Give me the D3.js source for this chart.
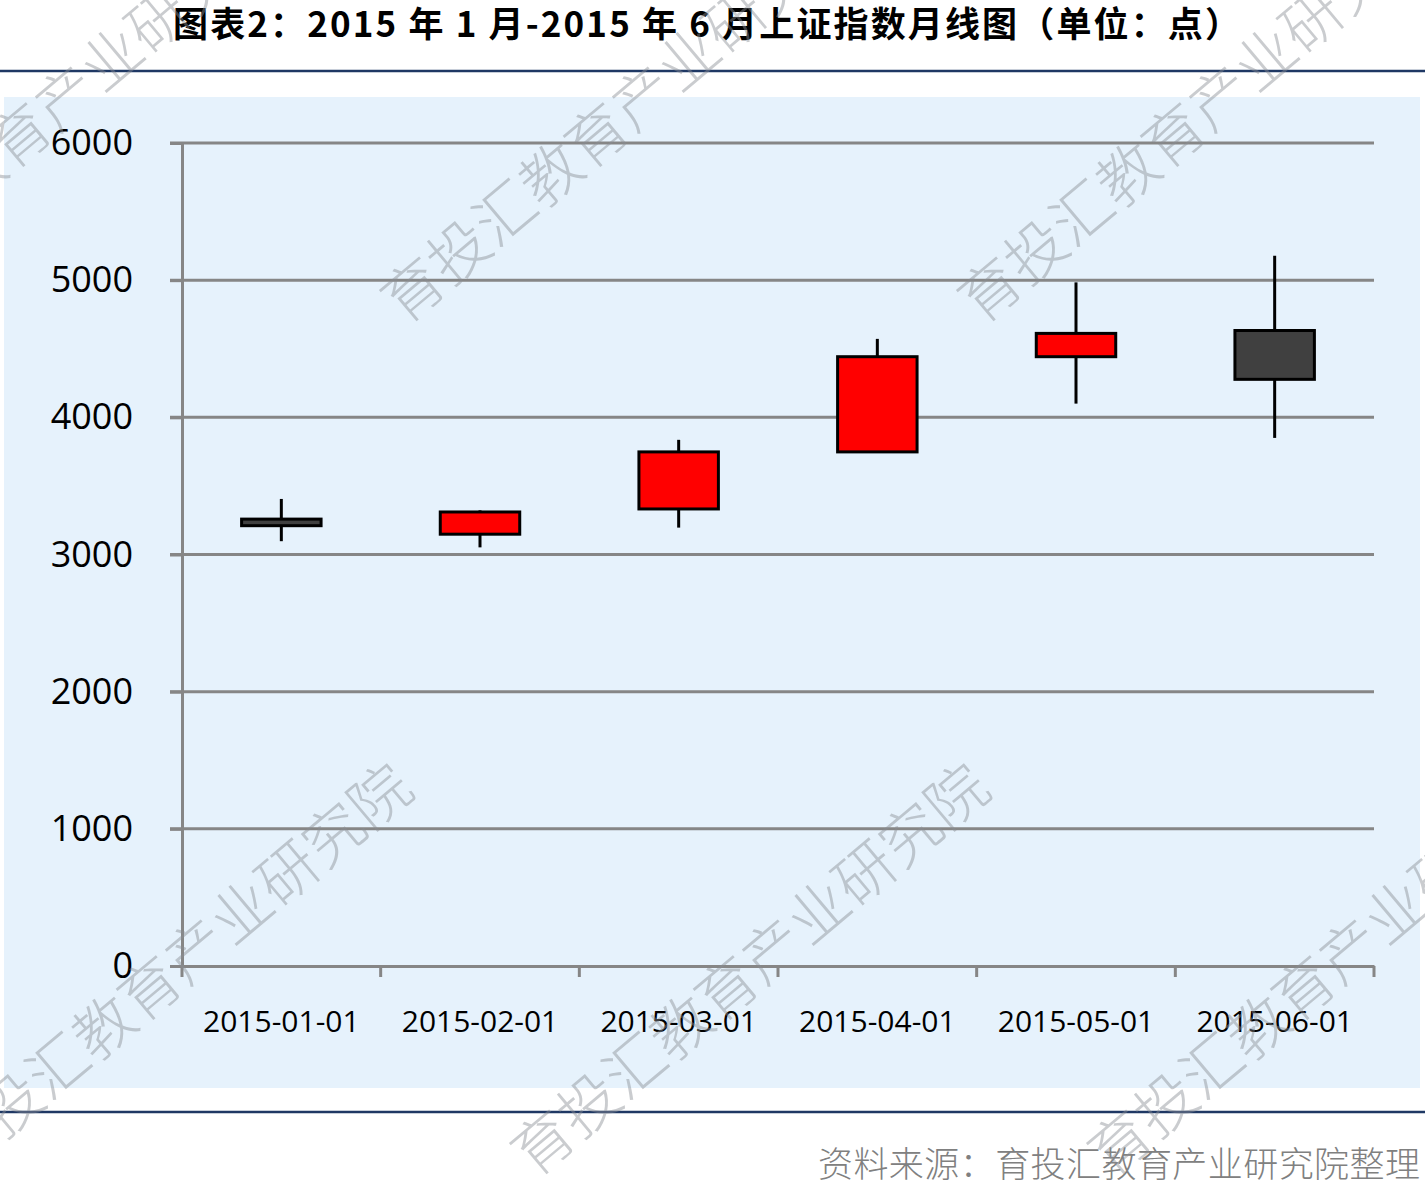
<!DOCTYPE html>
<html>
<head>
<meta charset="utf-8">
<script src="https://cdn.jsdelivr.net/npm/d3@7"></script>
<style>
  html, body { margin: 0; padding: 0; background: #fff; }
  svg { display: block; }
</style>
</head>
<body>
<div id="chart"></div>
<script>
// 月线数据
const months = ["2015-01-01", "2015-02-01", "2015-03-01", "2015-04-01", "2015-05-01", "2015-06-01"];
const openVals = [3258, 3148, 3332, 3748, 4442, 4633];
const closeVals = [3210, 3310, 3748, 4442, 4612, 4277];
const highVals = [3405, 3322, 3836, 4572, 4984, 5178];
const lowVals = [3097, 3052, 3196, 3748, 4100, 3850];
const yTicks = [0, 1000, 2000, 3000, 4000, 5000, 6000];

const titleText = "图表2：2015 年 1 月-2015 年 6 月上证指数月线图（单位：点）";
const sourceText = "资料来源：育投汇教育产业研究院整理";
const watermark = "育投汇教育产业研究院";

const width = 1425, height = 1186;
const cjk = "'Noto Sans CJK SC', 'Noto Sans', sans-serif";
const latin = "'Open Sans', 'Noto Sans', sans-serif";

const candles = months.map((m, i) => ({
  date: m,
  open: openVals[i],
  close: closeVals[i],
  high: highVals[i],
  low: lowVals[i]
}));

const svg = d3.select("#chart")
  .append("svg")
  .attr("width", width)
  .attr("height", height);

// 标题
svg.append("text")
  .attr("x", 173)
  .attr("y", 37)
  .attr("font-family", cjk)
  .attr("font-weight", 700)
  .attr("font-size", 35)
  .attr("textLength", 1067)
  .attr("lengthAdjust", "spacing")
  .attr("fill", "#000")
  .text(titleText);

// 上下分隔线
[71, 1112].forEach(y => {
  svg.append("line")
    .attr("x1", 0).attr("x2", width)
    .attr("y1", y).attr("y2", y)
    .attr("stroke", "#1f3864")
    .attr("stroke-width", 2.5);
});

// 图表背景
svg.append("rect")
  .attr("x", 4).attr("y", 97)
  .attr("width", 1416).attr("height", 991)
  .attr("fill", "#e6f2fc");

const x = d3.scaleBand()
  .domain(months)
  .range([182, 1374])
  .padding(0);

const y = d3.scaleLinear()
  .domain([0, 6000])
  .range([966, 143]);

// 网格线
svg.append("g")
  .selectAll("line")
  .data(yTicks.slice(1))
  .enter()
  .append("line")
  .attr("x1", 170).attr("x2", 1374)
  .attr("y1", d => y(d)).attr("y2", d => y(d))
  .attr("stroke", "#868686")
  .attr("stroke-width", 3);

// y轴
const yAxis = svg.append("g")
  .attr("transform", "translate(182,0)")
  .call(d3.axisLeft(y).tickValues(yTicks).tickSize(12).tickPadding(37).tickFormat(d3.format("d")));
yAxis.select(".domain").attr("stroke", "#868686").attr("stroke-width", 3);
yAxis.selectAll(".tick line").attr("stroke", "#868686").attr("stroke-width", 3);
yAxis.selectAll(".tick text")
  .attr("font-family", latin)
  .attr("font-size", 36)
  .attr("fill", "#000");

// x轴
const xAxis = svg.append("g")
  .attr("transform", `translate(0,${y(0)})`)
  .call(d3.axisBottom(x).tickSize(0).tickPadding(45));
xAxis.select(".domain").attr("stroke", "#868686").attr("stroke-width", 3);
xAxis.selectAll(".tick text")
  .attr("font-family", latin)
  .attr("font-size", 30)
  .attr("fill", "#000");

// 分类边界刻度
const bounds = months.map(m => x(m)).concat([x.range()[1]]);
svg.append("g")
  .selectAll("line")
  .data(bounds)
  .enter()
  .append("line")
  .attr("x1", d => d).attr("x2", d => d)
  .attr("y1", y(0)).attr("y2", y(0) + 11)
  .attr("stroke", "#868686")
  .attr("stroke-width", 3);

// 影线
const bodyW = x.bandwidth() * 0.4;
const g = svg.append("g");
g.selectAll("line.wick")
  .data(candles)
  .enter()
  .append("line")
  .attr("class", "wick")
  .attr("x1", d => x(d.date) + x.bandwidth() / 2)
  .attr("x2", d => x(d.date) + x.bandwidth() / 2)
  .attr("y1", d => y(d.high))
  .attr("y2", d => y(d.low))
  .attr("stroke", "#000")
  .attr("stroke-width", 3);

// 实体
g.selectAll("rect.body")
  .data(candles)
  .enter()
  .append("rect")
  .attr("class", "body")
  .attr("x", d => x(d.date) + (x.bandwidth() - bodyW) / 2)
  .attr("y", d => y(Math.max(d.open, d.close)))
  .attr("width", bodyW)
  .attr("height", d => Math.abs(y(d.open) - y(d.close)))
  .attr("fill", d => d.close >= d.open ? "#ff0000" : "#404040")
  .attr("stroke", "#000")
  .attr("stroke-width", 3);

// 资料来源
svg.append("text")
  .attr("x", 818)
  .attr("y", 1177)
  .attr("font-family", cjk)
  .attr("font-weight", 300)
  .attr("font-size", 35)
  .attr("textLength", 602)
  .attr("lengthAdjust", "spacing")
  .attr("fill", "#808080")
  .text(sourceText);

// 水印
const wmStarts = [[-173, 326], [404, 326], [981, 326], [-43, 1179], [534, 1179], [1111, 1179]];
svg.append("g")
  .attr("pointer-events", "none")
  .selectAll("text")
  .data(wmStarts)
  .enter()
  .append("text")
  .attr("transform", d => `translate(${d[0]},${d[1]}) rotate(-40)`)
  .attr("font-family", cjk)
  .attr("font-weight", 300)
  .attr("font-size", 60)
  .attr("fill", "#8a8f94")
  .attr("fill-opacity", 0.45)
  .text(watermark);
</script>
</body>
</html>
